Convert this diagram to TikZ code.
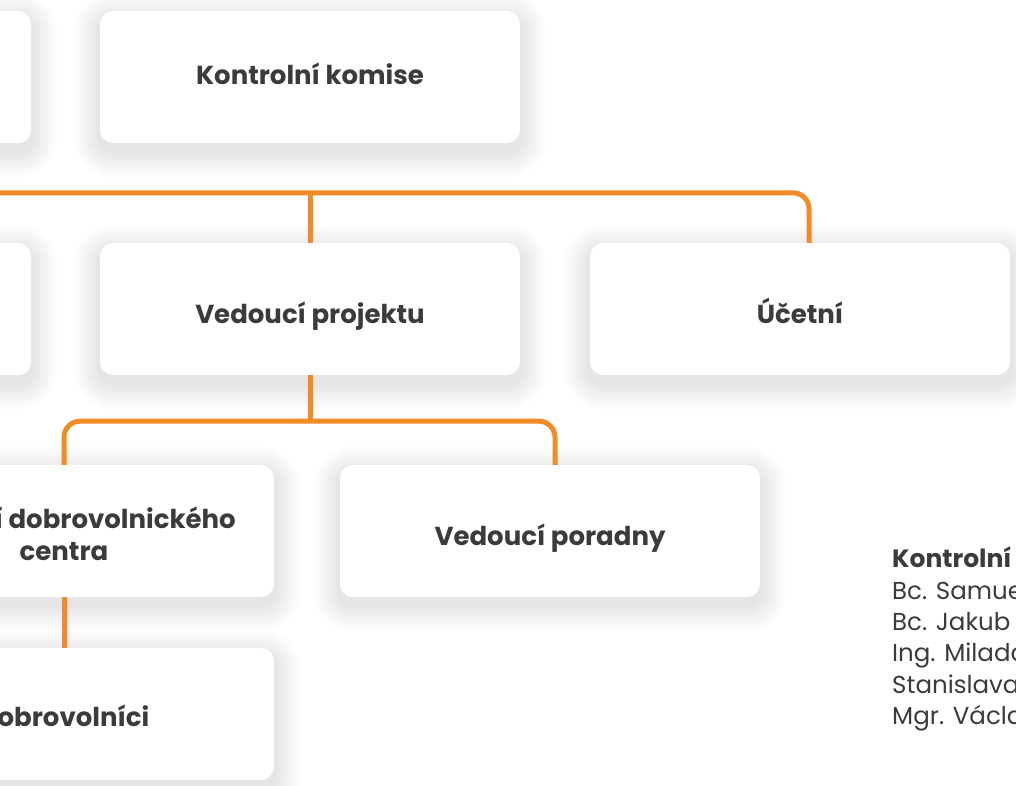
\documentclass[tikz,border=0pt]{standalone}
\usepackage{fontspec}
\setmainfont{Poppins}
\pgfdeclarelayer{back}
\pgfdeclarelayer{bg}
\pgfsetlayers{back,bg,main}
\definecolor{org}{HTML}{F28A25}
\definecolor{txt}{HTML}{3B3B3B}
\tikzset{
  card/.style={fill=white, rounded corners=13pt, minimum width=420pt, minimum height=132pt,
    inner sep=0pt, align=center, text=txt, font=\bfseries\fontsize{26}{32}\selectfont},
  capup/.style={text height=14pt, text depth=0pt},
  capdown/.style={text height=29pt, text depth=0pt},
  capmid/.style={text height=24pt, text depth=0pt},
  conn/.style={draw=org, line width=5pt, rounded corners=16pt},
  side/.style={anchor=base west, text=txt, inner sep=0pt, font=\fontsize{24.5}{31}\selectfont},
  sidehead/.style={side, font=\bfseries\fontsize{25}{31}\selectfont},
}
\newcommand\cardshadow[1]{%
  \foreach \r in {1,...,13}{%
    \pgfmathsetmacro\rr{13+2*\r}%
    \fill[black, opacity=0.0085, rounded corners=\rr pt]
      ([shift={(-2*\r,-2*\r+8)}]#1.north west) rectangle ([shift={(2*\r,2*\r+8)}]#1.south east);
  }}
\begin{document}
\begin{tikzpicture}[x=1pt,y=-1pt]
\useasboundingbox (0,0) rectangle (1016,785);
\begin{pgfonlayer}{back}
\fill[white] (-300,-100) rectangle (1100,900);
\end{pgfonlayer}
\clip (0,0) rectangle (1016,785);
% cards
\node[card] (lt1) at (-179,77) {};
\node[card,capup] (kk) at (310,77) {Kontrolní komise};
\node[card] (lt2) at (-179,309) {};
\node[card,capdown] (vp) at (310,309) {Vedoucí projektu};
\node[card,capdown] (uc) at (800,309) {Účetní};
\node[card] (vdc) at (64,531) {\rule{0pt}{28pt}Vedoucí dobrovolnického\\centra};
\node[card,capdown] (vpo) at (550,531) {Vedoucí poradny};
\node[card,capmid] (dob) at (64,714) {Dobrovolníci};
\begin{pgfonlayer}{bg}
\cardshadow{lt1}\cardshadow{kk}\cardshadow{lt2}\cardshadow{vp}\cardshadow{uc}
\cardshadow{vdc}\cardshadow{vpo}\cardshadow{dob}
\end{pgfonlayer}
% bus coordinates
\path (vp.north) ++(0,-50) coordinate (bus1);
\path (vp.south) ++(0,46) coordinate (bus2);
\coordinate (ucin) at ([xshift=9pt]uc.north);
\coordinate (vpoin) at ([xshift=5pt]vpo.north);
% connectors
\draw[conn] (lt2.north) |- (bus1) -| (ucin);
\draw[conn] (bus1) -- (vp.north);
\draw[conn] (vp.south) -- (bus2);
\draw[conn] (vdc.north) |- (bus2) -| (vpoin);
\draw[conn] (vdc.south) -- (dob.north);
% side text
\node[sidehead] (k0) at (892,567) {Kontrolní komise};
\node[side] (k1) at (892,599) {Bc. Samuel};
\node[side] (k2) at (892,630) {Bc. Jakub};
\node[side] (k3) at (892,661) {Ing. Milada};
\node[side] (k4) at (892,693) {Stanislava};
\node[side] (k5) at (892,724) {Mgr. Václav};
\end{tikzpicture}
\end{document}
